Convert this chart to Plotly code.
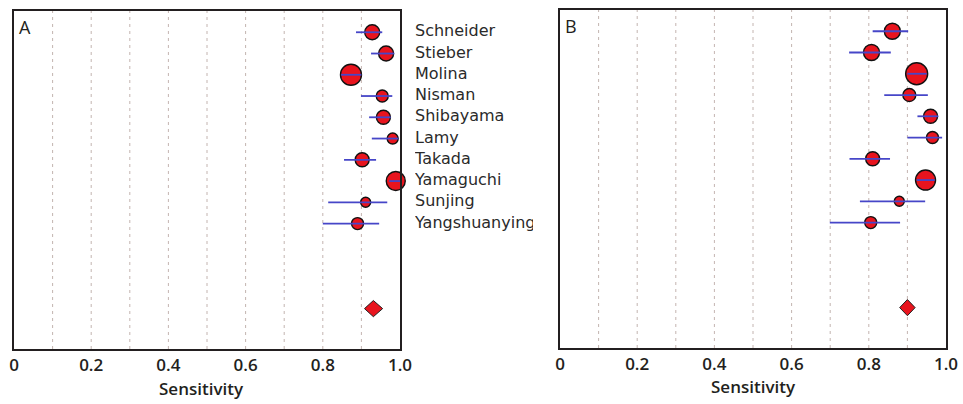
import plotly.graph_objects as go

studies = ["Schneider", "Stieber", "Molina", "Nisman", "Shibayama", "Lamy",
           "Takada", "Yamaguchi", "Sunjing", "Yangshuanying"]
rows = list(range(1, 11))
summary_row = 14

# Panel A
a_est = [0.928, 0.964, 0.873, 0.954, 0.957, 0.981, 0.902, 0.989, 0.911, 0.890]
a_lo = [0.886, 0.925, 0.847, 0.899, 0.920, 0.927, 0.855, 0.972, 0.814, 0.800]
a_hi = [0.954, 0.985, 0.900, 0.980, 0.976, 0.996, 0.938, 1.000, 0.967, 0.946]
a_size = [15, 15, 21, 12, 14, 11, 14, 19, 10, 12]
a_sum = [0.908, 0.931, 0.955]

# Panel B
b_est = [0.861, 0.807, 0.924, 0.905, 0.960, 0.965, 0.810, 0.947, 0.879, 0.805]
b_lo = [0.810, 0.749, 0.900, 0.840, 0.926, 0.900, 0.750, 0.924, 0.777, 0.699]
b_hi = [0.902, 0.857, 0.950, 0.953, 0.980, 0.990, 0.855, 0.971, 0.946, 0.881]
b_size = [16, 16, 22, 13, 14, 12, 14, 20, 10, 12]
b_sum = [0.880, 0.900, 0.920]

tick_vals = [0, 0.2, 0.4, 0.6, 0.8, 1.0]
tick_text = ["0", "0.2", "0.4", "0.6", "0.8", "1.0"]
grid_vals = [0.1, 0.2, 0.3, 0.4, 0.5, 0.6, 0.7, 0.8, 0.9]

RED = "#e8141e"
BLUE = "#4646c8"
W, H = 963, 404

fig = go.Figure()


def add_panel(est, lo, hi, size, summ, xa, ya):
    fig.add_trace(go.Scatter(
        x=est, y=rows, mode="markers", xaxis=xa, yaxis=ya,
        marker=dict(color=RED, size=size, opacity=1,
                    line=dict(color="#111111", width=1.4)),
        hoverinfo="skip", showlegend=False, cliponaxis=False))
    xs, ys = [], []
    for l, h, r in zip(lo, hi, rows):
        xs += [l, h, None]
        ys += [r, r, None]
    fig.add_trace(go.Scatter(
        x=xs, y=ys, mode="lines", xaxis=xa, yaxis=ya,
        line=dict(color=BLUE, width=1.8), hoverinfo="skip", showlegend=False))
    hgt = 0.38
    fig.add_trace(go.Scatter(
        x=[summ[0], summ[1], summ[2], summ[1], summ[0]],
        y=[summary_row, summary_row - hgt, summary_row, summary_row + hgt, summary_row],
        mode="lines", fill="toself", fillcolor=RED, xaxis=xa, yaxis=ya,
        line=dict(color="#222222", width=1), hoverinfo="skip", showlegend=False))


add_panel(a_est, a_lo, a_hi, a_size, a_sum, "x", "y")
add_panel(b_est, b_lo, b_hi, b_size, b_sum, "x2", "y2")

# Study labels, clipped by their own axis like the reference
fig.add_trace(go.Scatter(
    x=[0] * len(studies), y=rows, mode="text", text=studies,
    textposition="middle right", xaxis="x3", yaxis="y3",
    textfont=dict(family="DejaVu Sans, Verdana, sans-serif", size=16, color="#2a2a2a"),
    hoverinfo="skip", showlegend=False, cliponaxis=True))

for xa, ya in [("x", "y"), ("x2", "y2")]:
    for g in grid_vals:
        fig.add_shape(type="line", xref=xa, yref=ya + " domain", x0=g, x1=g, y0=0, y1=1,
                      line=dict(color="rgba(175,155,150,0.75)", width=1, dash="3px,4px"),
                      layer="below")

tick_font = dict(family="Open Sans, sans-serif", size=17, color="#231f20", weight=600)
axis_common = dict(range=[0, 1], tickvals=tick_vals, ticktext=tick_text, showgrid=False,
                   zeroline=False, showline=True, mirror=True, linecolor="#231f20",
                   linewidth=2, ticks="", tickfont=tick_font, fixedrange=True,
                   automargin=False)
yaxis_common = dict(range=[15.9, 0], showticklabels=False, showgrid=False, zeroline=False,
                    showline=True, mirror=True, linecolor="#231f20", linewidth=2,
                    ticks="", fixedrange=True, automargin=False)


def px_x(p):
    return p / W


def px_y(p):
    return 1 - p / H


fig.update_layout(
    template="none",
    width=W, height=H,
    margin=dict(l=0, r=0, t=0, b=0, autoexpand=False),
    paper_bgcolor="white", plot_bgcolor="white",
    xaxis=dict(domain=[px_x(14), px_x(400)], anchor="y", **axis_common),
    yaxis=dict(domain=[px_y(349), px_y(11)], anchor="x", **yaxis_common),
    xaxis2=dict(domain=[px_x(560), px_x(946)], anchor="y2", **axis_common),
    yaxis2=dict(domain=[px_y(348), px_y(10)], anchor="x2", **yaxis_common),
    xaxis3=dict(domain=[px_x(415), px_x(533)], anchor="y3", range=[0, 1], visible=False,
                fixedrange=True, automargin=False),
    yaxis3=dict(domain=[px_y(349), px_y(11)], anchor="x3", range=[15.9, 0], visible=False,
                fixedrange=True, automargin=False),
    showlegend=False,
)

title_font = dict(family="Open Sans, sans-serif", size=17, color="#231f20", weight=600)
fig.add_annotation(x=px_x(201), y=px_y(388), xref="paper", yref="paper", text="Sensitivity",
                   showarrow=False, font=title_font, xanchor="center", yanchor="middle")
fig.add_annotation(x=px_x(753), y=px_y(386), xref="paper", yref="paper", text="Sensitivity",
                   showarrow=False, font=title_font, xanchor="center", yanchor="middle")

panel_font = dict(family="Open Sans, sans-serif", size=18, color="#231f20")
fig.add_annotation(x=px_x(17), y=px_y(27), xref="paper", yref="paper", text="A",
                   showarrow=False, font=panel_font, xanchor="left", yanchor="middle")
fig.add_annotation(x=px_x(563), y=px_y(26), xref="paper", yref="paper", text="B",
                   showarrow=False, font=panel_font, xanchor="left", yanchor="middle")

fig.write_html(
    "out.html",
    config={"displayModeBar": False, "staticPlot": True},
    post_script="document.body.style.margin='0';document.body.style.overflow='hidden';",
)
